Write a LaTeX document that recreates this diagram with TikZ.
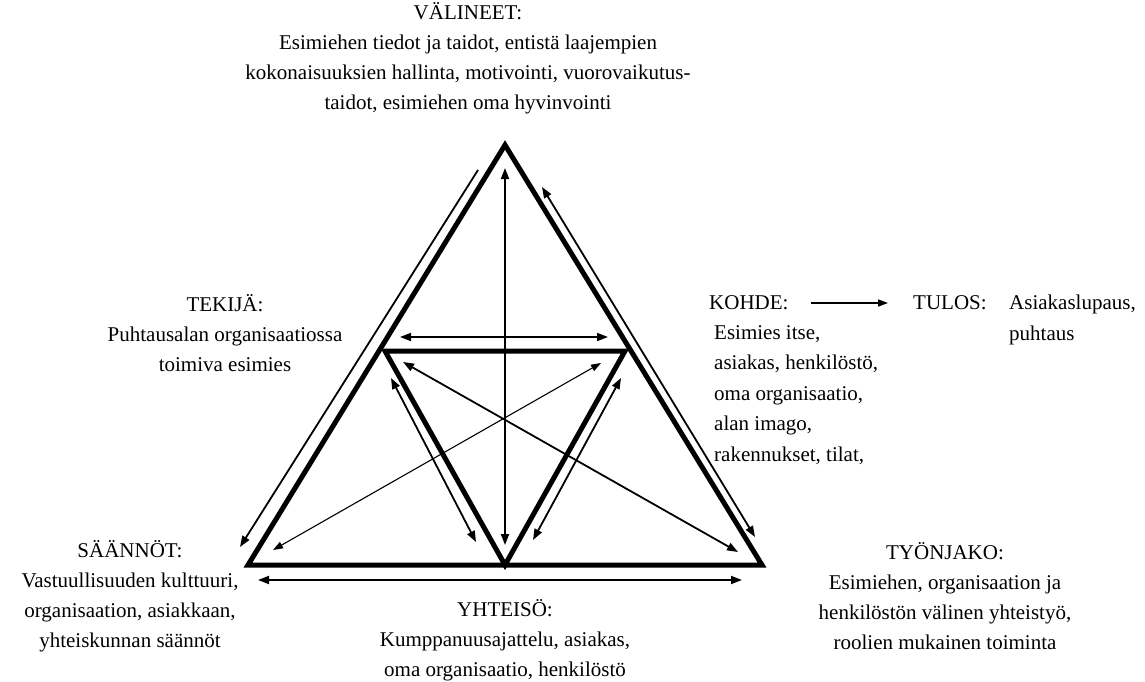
\documentclass[tikz,border=0pt]{standalone}
\usepackage{fontspec}
\setmainfont{Liberation Serif}
\usetikzlibrary{arrows.meta}
\begin{document}
\begin{tikzpicture}[x=1pt,y=-1pt,
  tri/.style={line width=5pt, line join=miter},
  arr/.style={line width=1.8pt, {Triangle[length=11pt,width=8pt]}-{Triangle[length=11pt,width=8pt]}},
  arrone/.style={line width=1.8pt, -{Triangle[length=11pt,width=8pt]}},
  thinarr/.style={line width=1.1pt, {Triangle[length=10pt,width=7pt]}-{Triangle[length=10pt,width=7pt]}},
  lbl/.style={inner sep=0pt, align=center, font=\fontsize{21}{30}\selectfont},
  lbll/.style={inner sep=0pt, align=left, font=\fontsize{21}{30.5}\selectfont}]
\useasboundingbox (0,0) rectangle (1145,682);
% outer triangle
\coordinate (A) at (505,145);
\coordinate (L) at (248,565);
\coordinate (R) at (762,565);
% inner triangle
\coordinate (TL) at (385,351);
\coordinate (TR) at (625,351);
\coordinate (B) at (505,565);
\draw[tri] (A) -- (L) -- (R) -- cycle;
\draw[tri] (TL) -- (TR) -- (B) -- cycle;
% arrow end points
\coordinate (v1) at (505,168);   \coordinate (v2) at (505,545);
\coordinate (h1) at (400,337);   \coordinate (h2) at (608,337);
\coordinate (b1) at (258,580);   \coordinate (b2) at (742,580);
\coordinate (ol1) at (478,170);  \coordinate (ol2) at (240,547);
\coordinate (or1) at (542,187);  \coordinate (or2) at (755,537);
\coordinate (il1) at (391,378);  \coordinate (il2) at (476,542);
\coordinate (ir1) at (621,378);  \coordinate (ir2) at (533,540);
\coordinate (d11) at (403,362);  \coordinate (d12) at (738,552);
\coordinate (d21) at (601,363);  \coordinate (d22) at (273,550);
\draw[arr] (v1) -- (v2);
\draw[arr] (h1) -- (h2);
\draw[arr] (b1) -- (b2);
\draw[arrone] (ol1) -- (ol2);
\draw[arr] (or1) -- (or2);
\draw[arr] (il1) -- (il2);
\draw[arr] (ir1) -- (ir2);
\draw[arr] (d11) -- (d12);
\draw[thinarr] (d21) -- (d22);
% labels
\node[lbl] (valineet) at (468,58) {VÄLINEET:\\Esimiehen tiedot ja taidot, entistä laajempien\\kokonaisuuksien hallinta, motivointi, vuorovaikutus-\\taidot, esimiehen oma hyvinvointi};
\node[lbl] (tekija) at (225,333) {TEKIJÄ:\\Puhtausalan organisaatiossa\\toimiva esimies};
\node[lbl, anchor=west] (kohde) at (709,303) {KOHDE:};
\node[lbll, anchor=north west] (kohdetxt) at (714,325) {Esimies itse,\\asiakas, henkilöstö,\\oma organisaatio,\\alan imago,\\rakennukset, tilat,};
\node[lbl, anchor=west] (tulos) at (913,303) {TULOS:};
\node[lbll, anchor=north west] (tulostxt) at (1009,295) {Asiakaslupaus,\\puhtaus};
\draw[line width=1.5pt, -{Triangle[length=10pt,width=7pt]}] ([xshift=22pt]kohde.east) -- ([xshift=-25pt]tulos.west);
\node[lbl] (saannot) at (130,596) {SÄÄNNÖT:\\Vastuullisuuden kulttuuri,\\organisaation, asiakkaan,\\yhteiskunnan säännöt};
\node[lbl] (yhteiso) at (505,640) {YHTEISÖ:\\Kumppanuusajattelu, asiakas,\\oma organisaatio, henkilöstö};
\node[lbl] (tyonjako) at (945,596) {TYÖNJAKO:\\Esimiehen, organisaation ja\\henkilöstön välinen yhteistyö,\\roolien mukainen toiminta};
\end{tikzpicture}
\end{document}
